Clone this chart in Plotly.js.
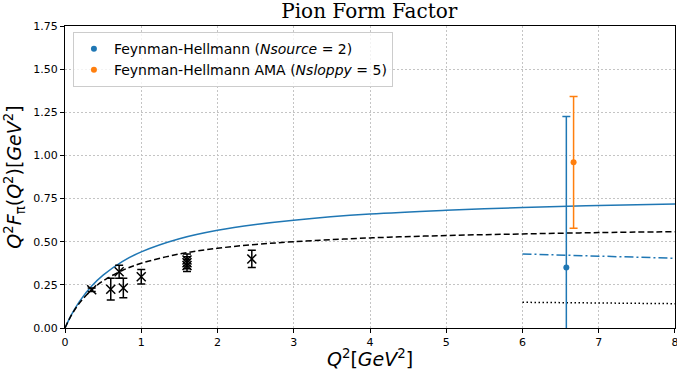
<!DOCTYPE html>
<html><head><meta charset="utf-8">
<script src="https://cdn.plot.ly/plotly-3.0.1.min.js"></script>
<style>html,body{margin:0;padding:0;background:#fff}#chart{width:677px;height:369px}</style>
</head><body><div id="chart"></div>
<script>
// Curves
const curveX = [0, 0.05, 0.1, 0.2, 0.35, 0.5, 0.75, 1, 1.5, 2, 2.5, 3, 4, 5, 6, 7, 8];
const blueCurveY = [0, 0.047, 0.089, 0.160, 0.243, 0.306, 0.385, 0.441, 0.517, 0.566, 0.600, 0.625, 0.660, 0.682, 0.698, 0.710, 0.719];
const blackCurveY = [0, 0.046, 0.086, 0.150, 0.221, 0.273, 0.333, 0.375, 0.429, 0.462, 0.484, 0.500, 0.522, 0.536, 0.545, 0.553, 0.558];
const dashDotX = [6, 8];
const dashDotY = [0.429, 0.404];
const dottedX = [6, 8];
const dottedY = [0.149, 0.141];
// Experimental points (black x)
const expX = [0.35, 0.60, 0.71, 0.765, 1.0, 1.6, 1.6, 1.6, 2.45];
const expY = [0.222, 0.225, 0.326, 0.232, 0.297, 0.362, 0.378, 0.394, 0.400];
const expErr = [0.010, 0.063, 0.038, 0.056, 0.042, 0.035, 0.035, 0.035, 0.050];
// Lattice points
const fhX = [6.575], fhY = [0.35], fhErr = [0.876];
const amaX = [6.67], amaY = [0.96], amaErr = [0.382];
const xTicks = [0,1,2,3,4,5,6,7,8];
const yTicks = [0,0.25,0.5,0.75,1.0,1.25,1.5,1.75];
const yTickText = ['0.00','0.25','0.50','0.75','1.00','1.25','1.50','1.75'];
const xTitle = '<i>Q</i><sup>2</sup>[<i>GeV</i><sup>2</sup>]';

const blue = '#1f77b4', orange = '#ff7f0e';
const traces = [
  {x: curveX, y: blueCurveY, mode:'lines', line:{color:blue, width:1.5, shape:'spline'}, showlegend:false, hoverinfo:'skip'},
  {x: curveX, y: blackCurveY, mode:'lines', line:{color:'black', width:1.5, dash:'6px,3px', shape:'spline'}, showlegend:false, hoverinfo:'skip'},
  {x: dashDotX, y: dashDotY, mode:'lines', line:{color:blue, width:1.5, dash:'9px,3px,2px,3px'}, showlegend:false},
  {x: dottedX, y: dottedY, mode:'lines', line:{color:'black', width:1.5, dash:'1.5px,2.5px'}, showlegend:false},
  {x: expX, y: expY, mode:'markers', marker:{symbol:'x-thin-open', size:9, color:'black', line:{color:'black', width:1.5}},
   error_y:{type:'data', array: expErr, visible:true, color:'black', thickness:1.5, width:4}, showlegend:false},
  {x: fhX, y: fhY, mode:'markers', name:'Feynman-Hellmann (<i>Nsource</i> = 2)', marker:{color:blue, size:6},
   error_y:{type:'data', array: fhErr, visible:true, color:blue, thickness:1.5, width:4}},
  {x: amaX, y: amaY, mode:'markers', name:'Feynman-Hellmann AMA (<i>Nsloppy</i> = 5)', marker:{color:orange, size:6},
   error_y:{type:'data', array: amaErr, visible:true, color:orange, thickness:1.5, width:4}}
];
const axisCommon = {showline:true, linecolor:'black', linewidth:1, mirror:true, ticks:'outside', ticklen:4, tickcolor:'black',
  showgrid:true, gridcolor:'#c4c4c4', griddash:'2px,2px', gridwidth:1, zeroline:false, ticklabeloverflow:'allow',
  tickfont:{family:'DejaVu Sans', size:11, color:'black'}};
const layout = {
  width:677, height:369,
  margin:{l:65, r:2, t:26, b:41},
  paper_bgcolor:'white', plot_bgcolor:'white',
  title:{text:'Pion Form Factor', font:{family:'DejaVu Serif', size:20, color:'black'}, x:0.5455, xanchor:'center', y:0.99, yanchor:'top'},
  xaxis: Object.assign({}, axisCommon, {range:[0,8.0001], tickvals:xTicks, ticktext:xTicks.map(String)}),
  yaxis: Object.assign({}, axisCommon, {range:[0,1.75], tickvals:yTicks, ticktext:yTickText,
    title:{text:'<i>Q</i><sup>2</sup><i>F</i><sub>π</sub>(<i>Q</i><sup>2</sup>)[<i>GeV</i><sup>2</sup>]', font:{family:'DejaVu Sans', size:19, color:'black'}, standoff:6}}),
  annotations:[{text:xTitle, xref:'paper', yref:'paper', x:0.5, y:-0.1, xanchor:'center', yanchor:'middle', showarrow:false,
    font:{family:'DejaVu Sans', size:19, color:'black'}}],
  showlegend:true,
  legend:{x:0.013, y:0.98, xanchor:'left', yanchor:'top', bgcolor:'rgba(255,255,255,0.8)', bordercolor:'#cccccc', borderwidth:1,
    font:{family:'DejaVu Sans', size:14, color:'black'}, tracegroupgap:0}
};
Plotly.newPlot('chart', traces, layout, {displayModeBar:false, staticPlot:true});
</script></body></html>
